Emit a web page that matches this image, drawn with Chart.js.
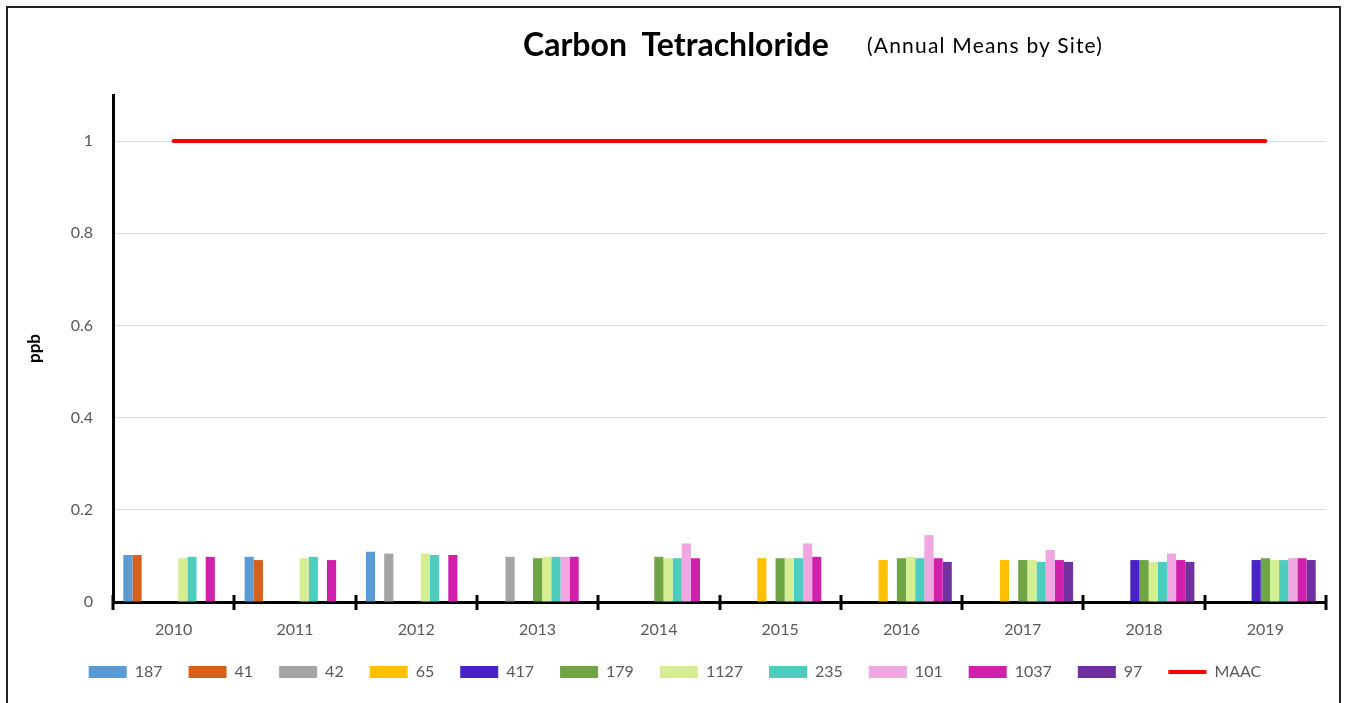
<!DOCTYPE html>
<html>
<head>
<meta charset="utf-8">
<script src="https://cdn.jsdelivr.net/npm/chart.js@4"></script>
<style>
html,body{margin:0;padding:0;background:#fff;}
#wrap{position:relative;width:1348px;height:703px;overflow:hidden;}
#frame{position:absolute;left:6px;top:6px;width:1335px;height:720px;border:2px solid #222;box-sizing:border-box;pointer-events:none;}
#title{position:absolute;left:523px;top:24px;font-family:Lato,'Open Sans',sans-serif;font-weight:bold;font-size:32px;color:#000;white-space:pre;}
#sub{position:absolute;left:867px;top:32px;font-family:Lato,'Open Sans',sans-serif;font-size:21px;letter-spacing:1.2px;color:#000;white-space:pre;}
canvas{position:absolute;left:0;top:0;}
</style>
</head>
<body>
<div id="wrap">
<canvas id="c" width="1348" height="703"></canvas>
<div id="title">Carbon  Tetrachloride</div>
<div id="sub">(Annual Means by Site)</div>
<div id="frame"></div>
</div>
<script>
const years = ['2010','2011','2012','2013','2014','2015','2016','2017','2018','2019'];
const siteNames = ['187','41','42','65','417','179','1127','235','101','1037','97'];
const siteColors = ['#5B9BD5','#D9601A','#A5A5A5','#FFC000','#4822C8','#6FA545','#D5EE92','#4ECDBF','#F0A6E0','#D020AC','#7030A0'];
const s187  = [0.102,0.098,0.109,null,null,null,null,null,null,null];
const s41   = [0.102,0.091,null,null,null,null,null,null,null,null];
const s42   = [null,null,0.105,0.098,null,null,null,null,null,null];
const s65   = [null,null,null,null,null,0.095,0.091,0.091,null,null];
const s417  = [null,null,null,null,null,null,null,null,0.091,0.091];
const s179  = [null,null,null,0.095,0.098,0.095,0.095,0.091,0.091,0.095];
const s1127 = [0.095,0.095,0.105,0.098,0.095,0.095,0.098,0.091,0.087,0.091];
const s235  = [0.098,0.098,0.102,0.098,0.095,0.095,0.095,0.087,0.087,0.091];
const s101  = [null,null,null,0.098,0.127,0.127,0.145,0.113,0.105,0.095];
const s1037 = [0.098,0.091,0.102,0.098,0.095,0.098,0.095,0.091,0.091,0.095];
const s97   = [null,null,null,null,null,null,0.087,0.087,0.087,0.091];
const maac  = [1,1,1,1,1,1,1,1,1,1];
const seriesData = [s187,s41,s42,s65,s417,s179,s1127,s235,s101,s1037,s97];
const yTicksMax = 1.1, yStep = 0.2;

const datasets = seriesData.map((d,i)=>({
  type:'bar', label: siteNames[i], data: d, backgroundColor: siteColors[i],
  borderWidth:0, barPercentage:1, categoryPercentage:0.83, pointStyle:'rect', order:2
}));
datasets.push({
  type:'line', label:'MAAC', data: maac, borderColor:'#FF0000', backgroundColor:'#FF0000',
  borderWidth:4, pointRadius:0, borderCapStyle:'round', pointStyle:'line', order:1
});

const crossTicks = {
  id:'crossTicks',
  afterDraw(chart){
    const xs = chart.scales.x, ctx = chart.ctx;
    const y0 = chart.chartArea.bottom;
    const n = years.length;
    const w = (xs.right - xs.left)/n;
    ctx.save();
    ctx.strokeStyle='#000'; ctx.lineWidth=3;
    for(let i=0;i<=n;i++){
      const x = Math.round(xs.left + i*w);
      ctx.beginPath(); ctx.moveTo(x, y0-7); ctx.lineTo(x, y0+8); ctx.stroke();
    }
    ctx.restore();
  }
};

new Chart(document.getElementById('c'), {
  data:{ labels: years, datasets },
  options:{
    responsive:false, animation:false,
    layout:{ padding:{ top:95, right:22, bottom:13, left:24 } },
    plugins:{
      title:{display:false},
      tooltip:{enabled:false},
      legend:{
        position:'bottom',
        labels:{ usePointStyle:true, pointStyleWidth:38, boxHeight:12, padding:26,
          sort:(a,b)=>a.datasetIndex-b.datasetIndex,
          color:'#595959', font:{family:'Lato, "Open Sans", sans-serif', size:16} }
      }
    },
    scales:{
      x:{
        offset:true,
        grid:{ display:false, drawTicks:false },
        border:{ display:true, color:'#000', width:3 },
        ticks:{ color:'#595959', padding:18, font:{family:'Lato, "Open Sans", sans-serif', size:16} },
        afterFit(s){ s.height = 36; }
      },
      y:{
        min:0, max:yTicksMax,
        grid:{ color:'#D9D9D9', drawTicks:false, lineWidth:1 },
        border:{ display:true, color:'#000', width:3 },
        ticks:{ stepSize:yStep, includeBounds:false, padding:20, color:'#595959',
          callback:(v)=>String(Number(v.toFixed(1))),
          font:{family:'Lato, "Open Sans", sans-serif', size:16} },
        title:{ display:true, text:'ppb', color:'#000', padding:0,
          font:{family:'Lato, "Open Sans", sans-serif', size:17, weight:'bold'} },
        afterFit(s){ s.width = 89; }
      }
    }
  },
  plugins:[crossTicks]
});
</script>
</body>
</html>
